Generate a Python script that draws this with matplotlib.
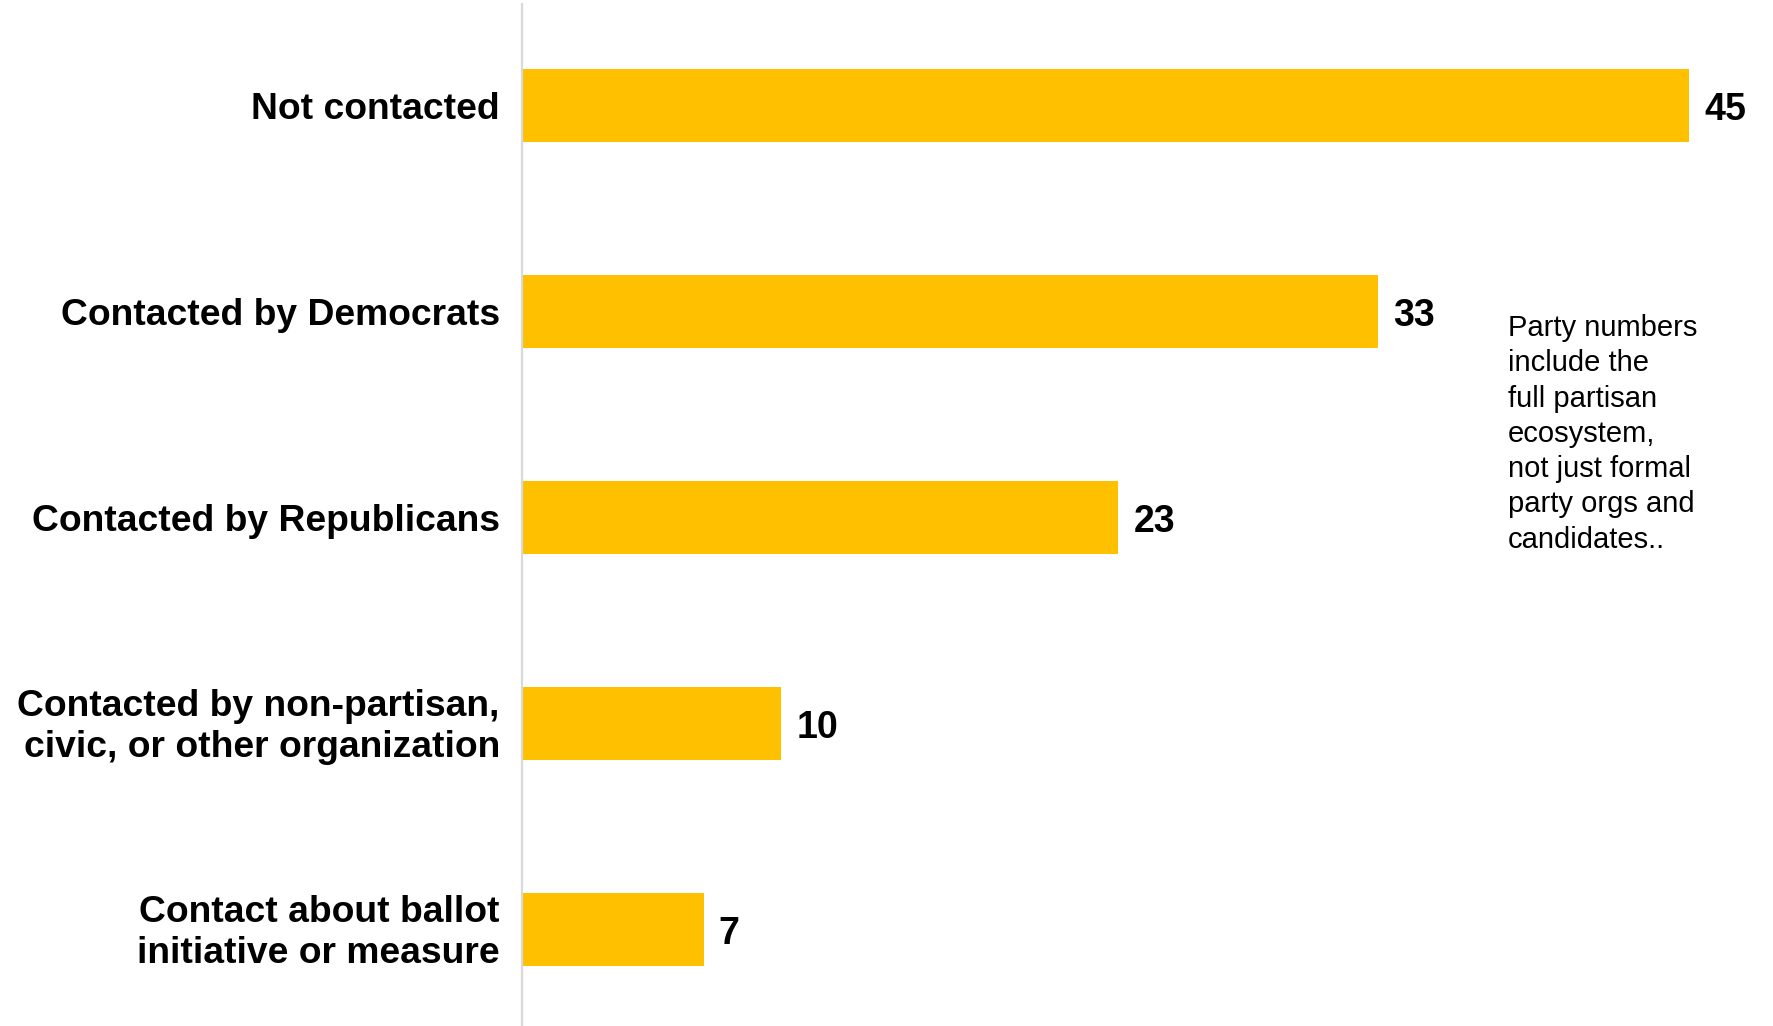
import matplotlib
matplotlib.use("Agg")
import matplotlib.pyplot as plt

categories = [
    "Not contacted",
    "Contacted by Democrats",
    "Contacted by Republicans",
    "Contacted by non-partisan,\ncivic, or other organization",
    "Contact about ballot\ninitiative or measure",
]
values = [45, 33, 23, 10, 7]
note = ("Party numbers\ninclude the\nfull partisan\necosystem,\n"
        "not just formal\nparty orgs and\ncandidates..")

plt.rcParams['font.family'] = ['Liberation Sans', 'DejaVu Sans']

W, H = 1773, 1026
fig = plt.figure(figsize=(W / 100, H / 100), dpi=100)
ax_left, ax_top, ax_bottom = 522, 4, 1026
ax = fig.add_axes([ax_left / W, 0, (W - ax_left) / W, (ax_bottom - ax_top) / H])

pos = list(range(len(categories)))
ax.barh(pos, values, height=0.355, color="#FFC000", zorder=2)
ax.set_ylim(4.469, -0.493)
ax.set_xlim(0, (W - ax_left) / 25.93)

for p, v in zip(pos, values):
    ax.annotate(str(v), xy=(v, p), xytext=(11, -3), textcoords="offset points",
                ha="left", va="center", fontsize=27, fontweight="bold", color="black")

ax.set_yticks(pos)
ax.set_yticklabels(categories, fontsize=26.8, fontweight="bold", color="black",
                   linespacing=1.2)
ax.tick_params(axis="y", length=0, pad=16)
for lbl in ax.get_yticklabels():
    if "\n" in lbl.get_text():
        lbl.set_y(lbl.get_position()[1])
        lbl.set_transform(lbl.get_transform() + matplotlib.transforms.ScaledTranslation(0, 3 / 100, fig.dpi_scale_trans))
ax.set_xticks([])
for s in ["top", "right", "bottom"]:
    ax.spines[s].set_visible(False)
ax.spines["left"].set_color("#d9d9d9")
ax.spines["left"].set_linewidth(1.6)

fig.text(1508 / W, 1 - 314 / H, note, ha="left", va="top", fontsize=21,
         color="black", linespacing=1.33)

fig.savefig("out.png", dpi=100, facecolor="white")
